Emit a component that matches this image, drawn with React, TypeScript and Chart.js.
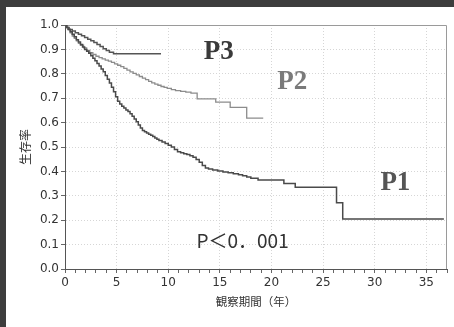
import React, { useEffect, useRef } from "react";
import { Chart, registerables } from "chart.js";

Chart.register(...registerables);

// Kaplan-Meier curves (years, survival)
const p1Years = [0, 0.15, 0.3, 0.5, 0.7, 0.9, 1.1, 1.3, 1.5, 1.7, 1.9, 2.1, 2.3, 2.5, 2.7, 2.9, 3.1, 3.3, 3.5, 3.7, 3.9, 4.1, 4.3, 4.5, 4.7, 4.9, 5.1, 5.3, 5.5, 5.7, 5.9, 6.1, 6.3, 6.5, 6.7, 6.9, 7.1, 7.3, 7.5, 7.7, 7.9, 8.1, 8.3, 8.5, 8.7, 8.9, 9.1, 9.4, 9.7, 10.0, 10.3, 10.6, 10.9, 11.2, 11.5, 11.8, 12.1, 12.4, 12.7, 13.0, 13.3, 13.6, 13.9, 14.3, 14.8, 15.3, 15.8, 16.3, 16.8, 17.2, 17.6, 18.0, 18.7, 21.2, 22.3, 26.3, 26.9, 36.7];
const p1Surv = [1, 0.99, 0.983, 0.972, 0.962, 0.952, 0.94, 0.93, 0.92, 0.91, 0.9, 0.892, 0.884, 0.874, 0.864, 0.853, 0.842, 0.832, 0.82, 0.808, 0.793, 0.778, 0.762, 0.745, 0.726, 0.706, 0.688, 0.676, 0.667, 0.66, 0.652, 0.645, 0.636, 0.626, 0.615, 0.603, 0.59, 0.578, 0.568, 0.562, 0.557, 0.552, 0.548, 0.543, 0.537, 0.532, 0.527, 0.52, 0.514, 0.507, 0.5, 0.49, 0.481, 0.476, 0.472, 0.469, 0.464, 0.458, 0.449, 0.437, 0.424, 0.414, 0.41, 0.406, 0.402, 0.398, 0.394, 0.39, 0.386, 0.382, 0.377, 0.372, 0.365, 0.35, 0.335, 0.272, 0.205, 0.205];

const p2Years = [0, 0.15, 0.3, 0.5, 0.7, 0.9, 1.1, 1.3, 1.5, 1.8, 2.1, 2.4, 2.7, 3.0, 3.3, 3.6, 3.9, 4.2, 4.5, 4.8, 5.1, 5.4, 5.7, 6.0, 6.3, 6.6, 6.9, 7.2, 7.5, 7.8, 8.1, 8.4, 8.7, 9.0, 9.3, 9.6, 9.9, 10.3, 10.7, 11.2, 11.7, 12.2, 12.8, 14.6, 16.0, 17.6, 19.2];
const p2Surv = [1, 0.99, 0.98, 0.968, 0.955, 0.945, 0.935, 0.925, 0.917, 0.906, 0.896, 0.887, 0.879, 0.872, 0.866, 0.861, 0.856, 0.852, 0.847, 0.841, 0.835, 0.829, 0.822, 0.815, 0.808, 0.802, 0.796, 0.789, 0.782, 0.776, 0.769, 0.763, 0.758, 0.753, 0.748, 0.744, 0.74, 0.735, 0.731, 0.728, 0.725, 0.721, 0.697, 0.684, 0.662, 0.618, 0.618];

const p3Years = [0, 0.2, 0.4, 0.7, 1.0, 1.3, 1.6, 1.9, 2.2, 2.5, 2.8, 3.1, 3.4, 3.7, 4.0, 4.3, 4.7, 9.3];
const p3Surv = [1, 0.99, 0.982, 0.975, 0.968, 0.962, 0.956, 0.949, 0.942, 0.935, 0.928, 0.92, 0.912, 0.903, 0.895, 0.888, 0.882, 0.882];

// Text annotations placed in data coordinates
const noteTexts = ["P3", "P2", "P1", "P＜0．001"];
const noteX = [14.9, 22.0, 32.0, 17.2];
const noteY = [0.889, 0.765, 0.354, 0.115];

const yTickValues = [0, 0.1, 0.2, 0.3, 0.4, 0.5, 0.6, 0.7, 0.8, 0.9, 1.0];

const toPoints = (xs: number[], ys: number[]) => xs.map((x, i) => ({ x, y: ys[i] }));

const framePlugin = {
  id: "frame",
  beforeDatasetsDraw(chart: any) {
    const { ctx, chartArea } = chart;
    ctx.save();
    ctx.strokeStyle = "#9a9a9a";
    ctx.lineWidth = 1;
    ctx.beginPath();
    ctx.moveTo(chartArea.left, chartArea.top + 0.5);
    ctx.lineTo(chartArea.right - 0.5, chartArea.top + 0.5);
    ctx.lineTo(chartArea.right - 0.5, chartArea.bottom);
    ctx.stroke();
    ctx.restore();
  },
};

const notesPlugin = {
  id: "notes",
  afterDatasetsDraw(chart: any) {
    const { ctx, scales } = chart;
    const styles = [
      { font: "bold 27px 'Liberation Serif', serif", color: "#3a3a3a" },
      { font: "bold 27px 'Liberation Serif', serif", color: "#7a7a7a" },
      { font: "bold 27px 'Liberation Serif', serif", color: "#555555" },
      { font: "19px 'Noto Sans CJK JP', sans-serif", color: "#333333" },
    ];
    ctx.save();
    ctx.textAlign = "center";
    ctx.textBaseline = "middle";
    noteTexts.forEach((t, i) => {
      ctx.font = styles[i].font;
      ctx.fillStyle = styles[i].color;
      ctx.fillText(t, scales.x.getPixelForValue(noteX[i]), scales.y.getPixelForValue(noteY[i]));
    });
    ctx.restore();
  },
};

export default function App() {
  const ref = useRef<HTMLCanvasElement | null>(null);

  useEffect(() => {
    document.body.style.margin = "0";
    const canvas = ref.current;
    if (!canvas) return;
    const chart = new Chart(canvas, {
      type: "line",
      data: {
        datasets: [
          {
            label: "P1",
            data: toPoints(p1Years, p1Surv),
            borderColor: "#4a4a4a",
            borderWidth: 1.5,
            stepped: true,
            pointRadius: 0,
            fill: false,
          },
          {
            label: "P2",
            data: toPoints(p2Years, p2Surv),
            borderColor: "#8c8c8c",
            borderWidth: 1.3,
            stepped: true,
            pointRadius: 0,
            fill: false,
          },
          {
            label: "P3",
            data: toPoints(p3Years, p3Surv),
            borderColor: "#555555",
            borderWidth: 1.5,
            stepped: true,
            pointRadius: 0,
            fill: false,
          },
        ],
      },
      options: {
        animation: false,
        responsive: false,
        maintainAspectRatio: false,
        layout: { padding: { left: 0, right: 7, top: 25, bottom: 0 } },
        plugins: {
          legend: { display: false },
          tooltip: { enabled: false },
        },
        scales: {
          x: {
            type: "linear",
            min: 0,
            max: 37,
            afterFit: (s: any) => {
              s.height = 58;
            },
            ticks: {
              stepSize: 1,
              autoSkip: false,
              maxRotation: 0,
              padding: 3,
              color: "#333",
              font: { family: "'DejaVu Sans', sans-serif", size: 12 },
              callback: (v: any) => (Number(v) % 5 === 0 ? String(v) : ""),
            },
            grid: {
              color: (c: any) => (c.tick && c.tick.value % 5 === 0 ? "#d6d6d6" : "rgba(0,0,0,0)"),
              tickColor: "#666",
              tickLength: 4,
            },
            border: { color: "#555", dash: [1, 2] },
            title: {
              display: true,
              text: "観察期間（年）",
              color: "#333",
              font: { family: "'Noto Sans CJK JP', sans-serif", size: 11.5 },
              padding: { top: 0, bottom: 18 },
            },
          },
          y: {
            type: "linear",
            min: 0,
            max: 1,
            afterFit: (s: any) => {
              s.width = 65;
            },
            afterBuildTicks: (s: any) => {
              s.ticks = yTickValues.map((v) => ({ value: v }));
            },
            ticks: {
              padding: 2,
              color: "#333",
              font: { family: "'DejaVu Sans', sans-serif", size: 12 },
              callback: (v: any) => Number(v).toFixed(1),
            },
            grid: {
              color: "#d6d6d6",
              tickColor: "#666",
              tickLength: 4,
            },
            border: { color: "#555", dash: [1, 2] },
            title: {
              display: true,
              text: "生存率",
              color: "#333",
              font: { family: "'Noto Sans CJK JP', sans-serif", size: 12 },
              padding: { top: 18, bottom: 0 },
            },
          },
        },
      },
      plugins: [framePlugin, notesPlugin],
    });
    return () => chart.destroy();
  }, []);

  return (
    <div style={{ position: "fixed", left: 0, top: 0, width: 454, height: 327, background: "#3d3d3d" }}>
      <div style={{ position: "absolute", left: 6, top: 7, right: 0, bottom: 0, background: "#ffffff" }} />
      <canvas ref={ref} width={454} height={327} style={{ position: "absolute", left: 0, top: 0, width: 454, height: 327 }} />
    </div>
  );
}
